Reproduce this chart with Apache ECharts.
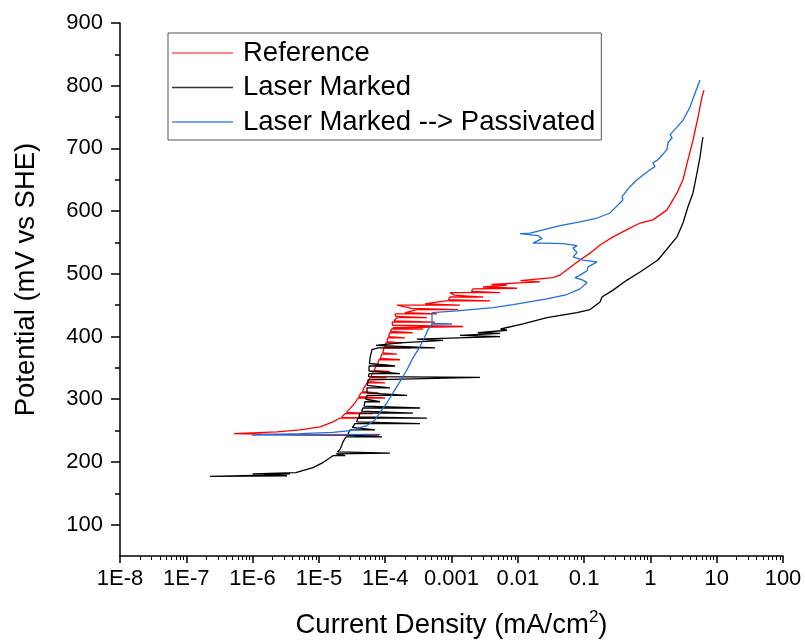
<!DOCTYPE html>
<html>
<head>
<meta charset="utf-8">
<script src="https://cdn.jsdelivr.net/npm/echarts@6/dist/echarts.min.js"></script>
<style>
html,body{margin:0;padding:0;background:#ffffff;}
#chart{width:805px;height:641px;}
</style>
</head>
<body>
<div id="chart"></div>
<script>
// ---- tick values / labels ----
const xTickValues = [1e-8, 1e-7, 1e-6, 1e-5, 1e-4, 1e-3, 1e-2, 1e-1, 1, 10, 100];
const xTickLabels = ['1E-8', '1E-7', '1E-6', '1E-5', '1E-4', '0.001', '0.01', '0.1', '1', '10', '100'];
const yTickValues = [100, 200, 300, 400, 500, 600, 700, 800, 900];
const yMinorTickValues = [150, 250, 350, 450, 550, 650, 750, 850];
const seriesNames = ['Reference', 'Laser Marked', 'Laser Marked --> Passivated'];

// ---- series values: [current density (mA/cm2), potential (mV vs SHE)] ----
const referenceData = [
  [8.05e-5,242],[5.19e-6,243],[5.24e-7,245],[2.33e-6,248],[5.19e-6,251],[1.04e-5,256],[1.63e-5,264],
  [2.08e-5,270],[7.78e-5,270],[2.2e-5,271],[2.48e-5,277],[6.5e-5,277],[2.6e-5,279],[2.94e-5,285],
  [3.50e-5,294],[3.89e-5,302],[9.93e-5,302],[4.0e-5,304],[4.31e-5,310],[8.0e-5,310],[4.5e-5,312],
  [4.79e-5,318],[5.31e-5,326],[9.93e-5,326],[5.5e-5,328],[5.90e-5,334],[1.05e-4,334],[6.1e-5,336],
  [6.55e-5,344],[1.18e-4,344],[6.8e-5,346],[7.26e-5,353],[1.3e-4,353],[7.6e-5,355],[8.05e-5,363],
  [1.67e-4,363],[8.4e-5,365],[8.95e-5,372],[1.5e-4,372],[9.2e-5,374],[9.60e-5,382],[2.37e-4,382],
  [9.8e-5,384],[1.03e-4,390],[1.8e-4,390],[1.06e-4,392],[1.10e-4,398],[1.99e-4,398],[1.12e-4,400],
  [1.18e-4,406],[2.6e-4,406],[1.2e-4,408],[1.25e-4,412],[3.72e-4,412],[1.3e-4,414],[1.36e-4,416],
  [1.49e-3,416],[1.3e-4,418],[1.27e-4,423],[5.64e-4,423],[1.35e-4,425],[1.51e-4,430],[4.26e-4,430],
  [1.45e-4,432],[1.41e-4,436],[6.04e-4,436],[2.0e-4,438],[3.02e-4,443],[1.25e-3,443],[2.5e-4,445],
  [1.51e-4,450],[1.34e-3,450],[4.0e-4,452],[7.98e-4,457],[3.81e-3,457],[9.0e-4,459],[9.48e-4,463],
  [2.98e-3,463],[1.1e-3,466],[9.48e-4,470],[5.40e-3,470],[2.0e-3,472],[2.11e-3,476],[9.73e-3,477],
  [2.98e-3,479],[6.88e-3,482],[4.0e-3,483],[1.2e-2,486],[2.16e-2,487],[1.1e-2,489],[3.40e-2,494],
  [4.34e-2,498],[6.12e-2,510],[8.67e-2,522],[0.123,533],[0.174,546],[0.273,559],[0.492,573],
  [0.697,581],[1.09,586],[1.78,602],[2.52,629],[3.10,650],[3.69,682],[4.39,713],[5.23,750],
  [6.00,782],[6.43,793]
];
const laserMarkedData = [
  [3.30e-6,178],[2.27e-7,177],[1.5e-6,179],[3.66e-6,181],[1.0e-6,181],[4.5e-6,183],[5.19e-6,185],
  [8.15e-6,191],[1.15e-5,199],[1.4e-5,205],[1.63e-5,210],[2.5e-5,210],[1.8e-5,213],[1.18e-4,214],
  [1.9e-5,216],[2.08e-5,220],[2.2e-5,226],[2.31e-5,232],[2.56e-5,240],[8.95e-5,240],[2.7e-5,243],
  [2.94e-5,251],[7.01e-5,251],[3.2e-5,255],[3.50e-5,261],[3.35e-4,261],[3.7e-5,264],[3.89e-5,270],
  [4.26e-4,270],[4.0e-5,272],[4.17e-5,278],[2.62e-4,278],[4.4e-5,281],[4.62e-5,286],[3.35e-4,286],
  [4.8e-5,289],[4.95e-5,296],[8.35e-5,296],[5.1e-5,300],[5.31e-5,306],[2.13e-4,306],[5.3e-5,310],
  [5.31e-5,318],[1.18e-4,318],[5.4e-5,322],[5.51e-5,331],[2.69e-3,335],[5.6e-5,336],[5.71e-5,341],
  [1.67e-4,341],[5.7e-5,345],[5.71e-5,353],[1.41e-4,353],[5.8e-5,357],[5.90e-5,366],[6.32e-5,379],
  [7.78e-5,382],[5.64e-4,382],[7.26e-5,386],[1.67e-4,390],[7.45e-4,394],[3.0e-4,396],[5.40e-3,400],
  [1.34e-3,402],[5.40e-3,405],[2.5e-3,406],[6.88e-3,410],[5.5e-3,412],[1.2e-2,420],[2.75e-2,430],
  [7.82e-2,438],[0.123,443],[0.174,455],[0.186,463],[0.273,474],[0.444,490],[0.697,503],[1.30,522],
  [2.52,559],[3.10,581],[3.69,607],[4.39,629],[5.05,661],[5.60,686],[6.00,709],[6.21,718]
];
const passivatedData = [
  [8.4e-5,244],[9.8e-7,243],[5.19e-6,245],[1.63e-5,247],[2.94e-5,250],[5.31e-5,258],[7.01e-5,267],
  [8.35e-5,279],[1.06e-4,294],[1.31e-4,310],[1.67e-4,328],[2.13e-4,347],[2.62e-4,366],[3.35e-4,384],
  [3.98e-4,400],[4.43e-4,411],[5.08e-4,420],[1.02e-3,420],[5.08e-4,421],[5.08e-4,438],[1.21e-3,441],
  [4.23e-3,446],[8.47e-3,451],[2.75e-2,460],[5.52e-2,467],[8.67e-2,476],[0.111,486],[0.0962,490],
  [0.0730,494],[0.0867,498],[0.111,505],[0.115,511],[0.157,519],[0.0962,522],[0.0681,527],[0.0782,534],
  [0.0681,541],[0.0782,545],[0.0481,548],[0.0240,549],[0.0169,549],[0.0232,556],[0.0202,561],
  [0.0108,564],[0.0153,565],[0.0434,577],[0.0867,583],[0.157,589],[0.246,597],[0.273,602],[0.348,613],
  [0.386,618],[0.373,623],[0.492,639],[0.628,650],[0.986,666],[1.17,671],[1.09,677],[1.30,682],
  [1.78,698],[1.84,709],[2.12,717],[1.98,722],[2.52,734],[3.10,745],[3.96,766],[4.71,788],[5.60,809]
];

// minor tick positions of the log axis (2..9 within each decade)
const xMinorTickValues = [];
for (let i = 0; i < xTickValues.length - 1; i++) {
  for (let k = 2; k <= 9; k++) xMinorTickValues.push(k * xTickValues[i]);
}

const FONT = "'Liberation Sans', Arial, sans-serif";
const colors = ['#ff0000', '#000000', '#1f6fdc'];
const legendColors = ['#ff5a5a', '#333333', '#4a8ae0'];

function xLabel(v) {
  const e = Math.round(Math.log10(v));
  const i = xTickValues.findIndex(t => Math.round(Math.log10(t)) === e);
  return i >= 0 ? xTickLabels[i] : '';
}

const chart = echarts.init(document.getElementById('chart'), null, {renderer: 'canvas'});
const axisLine = {show: true, onZero: false, lineStyle: {color: '#000', width: 1.5}};

chart.setOption({
  animation: false,
  backgroundColor: '#ffffff',
  grid: {left: 120, right: 22, top: 23, bottom: 85, containLabel: false, outerBoundsMode: 'none'},
  legend: {
    orient: 'vertical', left: 168, top: 33,
    padding: [6, 6, 4, 4],
    icon: 'rect',
    itemWidth: 61, itemHeight: 1.5, itemGap: 6.5,
    borderColor: '#555', borderWidth: 1, backgroundColor: '#fff',
    textStyle: {fontSize: 27.5, fontFamily: FONT, color: '#000', padding: [0, 0, 0, 5]},
    data: seriesNames.map((n, i) => ({name: n, itemStyle: {color: legendColors[i]}}))
  },
  xAxis: [{
    type: 'log', logBase: 10, min: 1e-8, max: 100, position: 'bottom',
    name: '{a|Current Density (mA/cm}{b|2}{a|)}',
    nameLocation: 'middle', nameGap: 53,
    nameTextStyle: {
      rich: {
        a: {fontSize: 27.5, fontFamily: FONT, color: '#000', lineHeight: 32},
        b: {fontSize: 17, fontFamily: FONT, color: '#000', verticalAlign: 'top', lineHeight: 32}
      }
    },
    axisLine: axisLine,
    axisTick: {show: true, inside: false, length: 7, customValues: xTickValues, lineStyle: {color: '#000', width: 1.5}},
    axisLabel: {show: true, customValues: xTickValues, margin: 12, fontSize: 22, fontFamily: FONT, color: '#000',
      formatter: xLabel, showMinLabel: true, showMaxLabel: true},
    splitLine: {show: false}, minorTick: {show: false}
  }, {
    type: 'log', logBase: 10, min: 1e-8, max: 100, position: 'bottom', gridIndex: 0,
    axisLine: {show: false, onZero: false},
    axisTick: {show: true, inside: false, length: 4, customValues: xMinorTickValues, lineStyle: {color: '#000', width: 1}},
    axisLabel: {show: false}, splitLine: {show: false}
  }],
  yAxis: [{
    type: 'value', min: 50, max: 900, position: 'left',
    name: 'Potential (mV vs SHE)', nameLocation: 'middle', nameGap: 80, nameRotate: 90,
    nameTextStyle: {fontSize: 27.5, fontFamily: FONT, color: '#000', padding: [0, 0, 0, 20]},
    axisLine: axisLine,
    axisTick: {show: true, inside: false, length: 9, customValues: yTickValues, lineStyle: {color: '#000', width: 1.5}},
    axisLabel: {show: true, customValues: yTickValues, margin: 17, fontSize: 22, fontFamily: FONT, color: '#000'},
    splitLine: {show: false}
  }, {
    type: 'value', min: 50, max: 900, position: 'left', gridIndex: 0,
    axisLine: {show: false, onZero: false},
    axisTick: {show: true, inside: false, length: 5, customValues: yMinorTickValues, lineStyle: {color: '#000', width: 1.5}},
    axisLabel: {show: false}, splitLine: {show: false}
  }],
  series: [
    {name: seriesNames[0], type: 'line', data: referenceData, xAxisIndex: 0, yAxisIndex: 0,
     symbol: 'none', showSymbol: false, lineStyle: {width: 1.3, color: colors[0]}, itemStyle: {color: colors[0]}},
    {name: seriesNames[1], type: 'line', data: laserMarkedData, xAxisIndex: 0, yAxisIndex: 0,
     symbol: 'none', showSymbol: false, lineStyle: {width: 1.3, color: colors[1]}, itemStyle: {color: colors[1]}},
    {name: seriesNames[2], type: 'line', data: passivatedData, xAxisIndex: 0, yAxisIndex: 0,
     symbol: 'none', showSymbol: false, lineStyle: {width: 1.3, color: colors[2]}, itemStyle: {color: colors[2]}}
  ]
});
</script>
</body>
</html>
